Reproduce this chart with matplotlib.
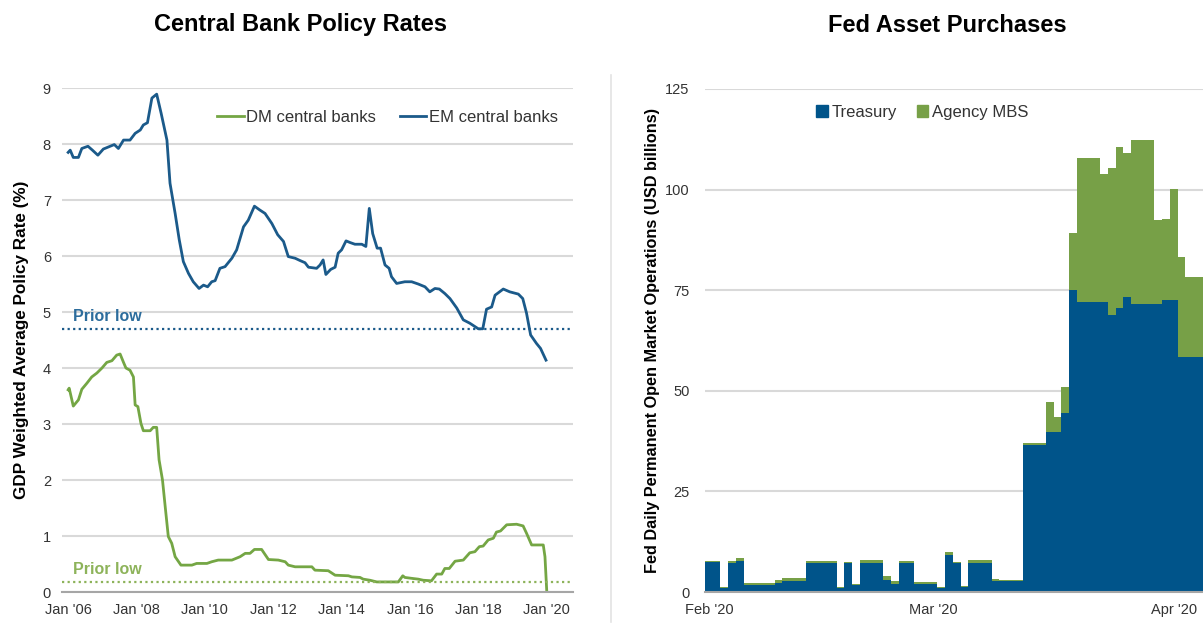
import matplotlib
matplotlib.use("Agg")
import matplotlib.pyplot as plt
import matplotlib.lines as mlines
import matplotlib.patches as mpatches
import numpy as np
import pandas as pd

plt.rcParams["font.family"] = ["Liberation Sans", "DejaVu Sans"]

# ---- Central bank policy rates (GDP weighted, %) ----
em_year = [2006.0, 2006.06, 2006.15, 2006.30, 2006.40, 2006.58, 2006.71, 2006.87, 2007.03,
           2007.23, 2007.35, 2007.47, 2007.62, 2007.81, 2007.96, 2008.11, 2008.20, 2008.32,
           2008.45, 2008.59, 2008.72, 2008.89, 2008.98, 2009.13, 2009.25, 2009.37, 2009.52,
           2009.66, 2009.83, 2009.96, 2010.08, 2010.20, 2010.30, 2010.44, 2010.59, 2010.79,
           2010.93, 2011.13, 2011.27, 2011.45, 2011.61, 2011.76, 2011.96, 2012.13, 2012.30,
           2012.44, 2012.64, 2012.78, 2012.93, 2013.03, 2013.27, 2013.37, 2013.46, 2013.54,
           2013.68, 2013.81, 2013.90, 2014.00, 2014.13, 2014.25, 2014.39, 2014.59, 2014.71,
           2014.81, 2014.91, 2015.04, 2015.14, 2015.27, 2015.39, 2015.46, 2015.61, 2015.85,
           2016.05, 2016.24, 2016.44, 2016.58, 2016.73, 2016.86, 2017.02, 2017.17, 2017.37,
           2017.56, 2017.75, 2018.00, 2018.13, 2018.24, 2018.39, 2018.49, 2018.73, 2018.92,
           2019.17, 2019.30, 2019.41, 2019.53, 2019.70, 2019.82, 2019.98]
em_rate = [7.85, 7.89, 7.76, 7.76, 7.92, 7.96, 7.89, 7.80, 7.91,
           7.96, 7.99, 7.92, 8.07, 8.07, 8.19, 8.25, 8.34, 8.38,
           8.82, 8.89, 8.55, 8.07, 7.30, 6.76, 6.29, 5.90, 5.69,
           5.54, 5.42, 5.48, 5.45, 5.54, 5.56, 5.78, 5.81, 5.96,
           6.11, 6.52, 6.64, 6.89, 6.82, 6.76, 6.58, 6.38, 6.26,
           5.99, 5.96, 5.92, 5.88, 5.80, 5.78, 5.84, 5.93, 5.67,
           5.76, 5.80, 6.05, 6.11, 6.27, 6.24, 6.21, 6.21, 6.17,
           6.85, 6.40, 6.14, 6.14, 5.84, 5.78, 5.63, 5.51, 5.54,
           5.54, 5.50, 5.45, 5.36, 5.42, 5.41, 5.33, 5.24, 5.07,
           4.86, 4.80, 4.70, 4.70, 5.05, 5.09, 5.30, 5.41, 5.36,
           5.32, 5.24, 4.98, 4.59, 4.44, 4.35, 4.14]

dm_year = [2006.0, 2006.03, 2006.15, 2006.30, 2006.40, 2006.55, 2006.69, 2006.84, 2006.99,
           2007.13, 2007.28, 2007.42, 2007.52, 2007.62, 2007.69, 2007.81, 2007.91, 2007.96,
           2008.04, 2008.13, 2008.20, 2008.40, 2008.49, 2008.59, 2008.66, 2008.76, 2008.84,
           2008.93, 2009.03, 2009.13, 2009.30, 2009.62, 2009.76, 2010.06, 2010.20, 2010.39,
           2010.79, 2011.03, 2011.18, 2011.32, 2011.45, 2011.66, 2011.86, 2012.15, 2012.35,
           2012.44, 2012.64, 2013.13, 2013.22, 2013.61, 2013.81, 2014.20, 2014.30, 2014.54,
           2014.63, 2014.83, 2015.03, 2015.66, 2015.79, 2015.85, 2016.10, 2016.24, 2016.39,
           2016.63, 2016.78, 2016.93, 2017.02, 2017.15, 2017.32, 2017.56, 2017.75, 2017.90,
           2018.03, 2018.14, 2018.29, 2018.44, 2018.53, 2018.65, 2018.83, 2019.12, 2019.31,
           2019.41, 2019.56, 2019.90, 2019.95, 2020.00]
dm_rate = [3.61, 3.64, 3.32, 3.43, 3.62, 3.73, 3.84, 3.91, 4.00,
           4.10, 4.13, 4.23, 4.25, 4.10, 4.00, 3.96, 3.84, 3.34,
           3.31, 3.01, 2.88, 2.88, 2.94, 2.94, 2.36, 2.00, 1.52,
           0.99, 0.87, 0.63, 0.48, 0.48, 0.51, 0.51, 0.54, 0.57,
           0.57, 0.63, 0.69, 0.69, 0.76, 0.76, 0.58, 0.57, 0.54,
           0.48, 0.45, 0.45, 0.39, 0.38, 0.30, 0.29, 0.27, 0.26,
           0.23, 0.21, 0.18, 0.18, 0.29, 0.26, 0.24, 0.23, 0.21,
           0.20, 0.32, 0.32, 0.42, 0.42, 0.55, 0.57, 0.70, 0.72,
           0.81, 0.82, 0.93, 0.96, 1.07, 1.09, 1.20, 1.21, 1.18,
           1.05, 0.84, 0.84, 0.63, 0.04]

em_prior_low = 4.70
dm_prior_low = 0.18
rate_ticks = [2006, 2008, 2010, 2012, 2014, 2016, 2018, 2020]
rate_tick_labels = ["Jan '06", "Jan '08", "Jan '10", "Jan '12", "Jan '14", "Jan '16", "Jan '18", "Jan '20"]

# ---- Fed daily permanent open market operations (USD bn) ----
op_dates = ["2020-01-31", "2020-02-03", "2020-02-04", "2020-02-05", "2020-02-06", "2020-02-07",
            "2020-02-10", "2020-02-11", "2020-02-12", "2020-02-13", "2020-02-14", "2020-02-18",
            "2020-02-19", "2020-02-20", "2020-02-21", "2020-02-24", "2020-02-25", "2020-02-26",
            "2020-02-27", "2020-02-28", "2020-03-02", "2020-03-03", "2020-03-04", "2020-03-05",
            "2020-03-06", "2020-03-09", "2020-03-10", "2020-03-11", "2020-03-12", "2020-03-13",
            "2020-03-16", "2020-03-17", "2020-03-18", "2020-03-19", "2020-03-20", "2020-03-23",
            "2020-03-24", "2020-03-25", "2020-03-26", "2020-03-27", "2020-03-30", "2020-03-31",
            "2020-04-01", "2020-04-02", "2020-04-03"]
treasury = [7.4, 1.0, 7.3, 7.6, 1.7, 1.7,
            2.3, 2.8, 2.8, 2.8, 7.3, 1.0,
            7.3, 1.7, 7.3, 2.9, 2.0, 7.3,
            7.3, 2.0, 0.9, 9.3, 7.2, 1.2,
            7.3, 2.8, 2.7, 2.7, 2.7, 36.6,
            39.8, 39.8, 44.5, 75.0, 72.1, 72.1,
            68.8, 70.6, 73.3, 71.6, 71.6, 72.6,
            72.6, 58.4, 58.4]
agency_mbs = [0.3, 0.3, 0.3, 0.8, 0.5, 0.5,
              0.7, 0.7, 0.7, 0.7, 0.4, 0.3,
              0.2, 0.4, 0.6, 1.1, 0.7, 0.3,
              0.3, 0.4, 0.4, 0.7, 0.3, 0.3,
              0.7, 0.5, 0.3, 0.3, 0.3, 0.4,
              7.4, 3.7, 6.5, 14.2, 35.7, 31.8,
              36.6, 40.0, 35.8, 40.7, 20.8, 20.1,
              27.6, 24.9, 19.8]
purchase_ticks = ["2020-02-01", "2020-03-01", "2020-04-01"]
purchase_tick_labels = ["Feb '20", "Mar '20", "Apr '20"]

blue = "#1B5A8A"
green = "#74A644"
bar_blue = "#00548A"
bar_green = "#77A047"
grid_c = "#D9D9D9"
tick_c = "#333333"

W, H = 1203, 631
fig = plt.figure(figsize=(W / 100, H / 100), dpi=100)


def frac_box(x0, y0, x1, y1):
    return [x0 / W, 1 - y1 / H, (x1 - x0) / W, (y1 - y0) / H]


# ---------------- left panel ----------------
ax1 = fig.add_axes(frac_box(62, 88, 573, 592))
ax1.plot(dm_year, dm_rate, color=green, lw=2.0, label="DM central banks", solid_joinstyle="round")
ax1.plot(em_year, em_rate, color=blue, lw=2.0, label="EM central banks", solid_joinstyle="round")
ax1.axhline(em_prior_low, color=blue, lw=1.6, ls=(0, (1, 1.5)))
ax1.axhline(dm_prior_low, color="#8DB35A", lw=1.6, ls=(0, (1, 1.5)))
ax1.text(2006.15, em_prior_low + 0.08, "Prior low", color="#2C6C9C", fontsize=11.5,
         fontweight="bold", va="bottom", ha="left")
ax1.text(2006.15, dm_prior_low + 0.08, "Prior low", color="#8DB35A", fontsize=11.5,
         fontweight="bold", va="bottom", ha="left")

ax1.set_xlim(2005.82, 2020.77)
ax1.set_ylim(0, 9)
ax1.set_yticks(range(0, 10))
ax1.set_xticks(rate_ticks)
ax1.set_xticklabels(rate_tick_labels)
ax1.grid(axis="y", color=grid_c, lw=1.5)
ax1.set_axisbelow(True)
for s in ["top", "right", "left"]:
    ax1.spines[s].set_visible(False)
ax1.spines["bottom"].set_color("#A6A6A6")
ax1.spines["bottom"].set_linewidth(1.5)
ax1.tick_params(length=0, labelsize=10.5, labelcolor=tick_c)
ax1.tick_params(axis="y", pad=8)
ax1.tick_params(axis="x", pad=8)
ax1.set_ylabel("GDP Weighted Average Policy Rate (%)", fontsize=12.3, fontweight="bold", labelpad=10)
ax1.legend(loc="center right", bbox_to_anchor=(0.97, 0.942), ncol=2, frameon=False,
           fontsize=12, handlelength=1.6, handletextpad=0.15, columnspacing=1.4,
           borderaxespad=0, borderpad=0, labelcolor=tick_c)

# ---------------- right panel ----------------
ax2 = fig.add_axes(frac_box(705, 89, 1203, 592))
ops = pd.DataFrame({"treasury": treasury, "mbs": agency_mbs}, index=pd.to_datetime(op_dates))
days = pd.date_range("2020-02-01", "2020-04-05", freq="D")
daily = ops.reindex(days, method="ffill")
edges = np.arange(len(days) + 1)
total = daily["treasury"].values + daily["mbs"].values
ax2.stairs(daily["treasury"].values, edges, baseline=0, fill=True, color=bar_blue, lw=0)
ax2.stairs(total, edges, baseline=daily["treasury"].values, fill=True, color=bar_green, lw=0)

tick_pos = [(pd.Timestamp(d) - days[0]).days + 0.5 for d in purchase_ticks]
ax2.set_xticks(tick_pos)
ax2.set_xticklabels(purchase_tick_labels)
ax2.set_xlim(0, 64.26)
ax2.set_ylim(0, 125)
ax2.set_yticks([0, 25, 50, 75, 100, 125])
ax2.grid(axis="y", color=grid_c, lw=1.5)
ax2.set_axisbelow(True)
for s in ["top", "right", "left"]:
    ax2.spines[s].set_visible(False)
ax2.spines["bottom"].set_color("#A6A6A6")
ax2.spines["bottom"].set_linewidth(1.5)
ax2.tick_params(length=0, labelsize=10.5, labelcolor=tick_c)
ax2.tick_params(axis="y", pad=11)
ax2.tick_params(axis="x", pad=8)
ax2.set_ylabel("Fed Daily Permanent Open Market Operations (USD billions)", fontsize=11.7,
               fontweight="bold", labelpad=4)
handles = [mpatches.Patch(color=bar_blue, label="Treasury"),
           mpatches.Patch(color=bar_green, label="Agency MBS")]
ax2.legend(handles=handles, loc="center", bbox_to_anchor=(0.436, 0.954), ncol=2, frameon=False,
           fontsize=12, handlelength=0.7, handleheight=0.7, handletextpad=0.2,
           columnspacing=1.2, borderaxespad=0, borderpad=0, labelcolor=tick_c)

# titles and panel divider
fig.text(300 / W, 1 - 25 / H, "Central Bank Policy Rates", ha="center", va="center",
         fontsize=17, fontweight="bold")
fig.text(947 / W, 1 - 25 / H, "Fed Asset Purchases", ha="center", va="center",
         fontsize=17, fontweight="bold")
fig.add_artist(mlines.Line2D([611 / W, 611 / W], [1 - 75 / H, 1 - 622 / H], color="#E3E3E3", lw=1.2))

fig.savefig("out.png", dpi=100)
